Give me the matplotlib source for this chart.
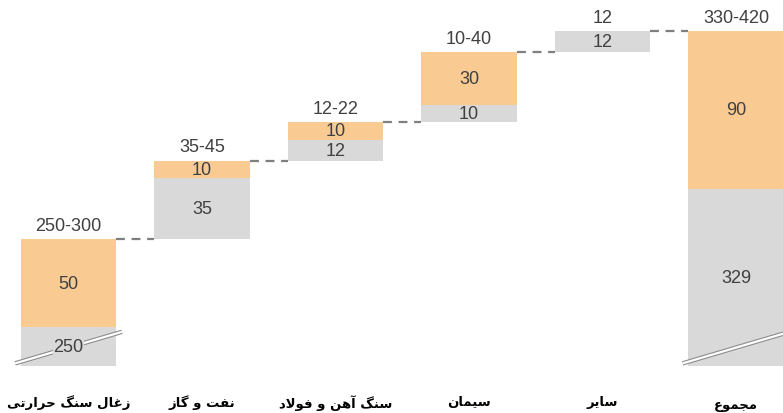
import matplotlib
matplotlib.use("Agg")
import matplotlib.pyplot as plt

# ---- data ----
categories = ["زغال سنگ حرارتی", "نفت و گاز", "سنگ آهن و فولاد", "سیمان", "سایر", "مجموع"]
low_values = [250, 35, 12, 10, 12, 329]      # grey (lower bound) segment
extra_values = [50, 10, 10, 30, 0, 90]        # orange (upper bound - lower bound)
range_labels = ["250-300", "35-45", "12-22", "10-40", "12", "330-420"]
is_total = [False, False, False, False, False, True]

GREY = "#D9D9D9"
ORANGE = "#F9CB93"
TEXT = "#404040"
DASH = "#7F7F7F"

# ---- minimal Persian shaping (matplotlib has no complex-script layout) ----
FORMS = {  # isolated, final, initial, medial
    "ا": ("\uFE8D", "\uFE8E", None, None),
    "آ": ("\uFE81", "\uFE82", None, None),
    "د": ("\uFEA9", "\uFEAA", None, None),
    "ر": ("\uFEAD", "\uFEAE", None, None),
    "ز": ("\uFEAF", "\uFEB0", None, None),
    "و": ("\uFEED", "\uFEEE", None, None),
    "ت": ("\uFE95", "\uFE96", "\uFE97", "\uFE98"),
    "ج": ("\uFE9D", "\uFE9E", "\uFE9F", "\uFEA0"),
    "ح": ("\uFEA1", "\uFEA2", "\uFEA3", "\uFEA4"),
    "س": ("\uFEB1", "\uFEB2", "\uFEB3", "\uFEB4"),
    "ع": ("\uFEC9", "\uFECA", "\uFECB", "\uFECC"),
    "غ": ("\uFECD", "\uFECE", "\uFECF", "\uFED0"),
    "ف": ("\uFED1", "\uFED2", "\uFED3", "\uFED4"),
    "ل": ("\uFEDD", "\uFEDE", "\uFEDF", "\uFEE0"),
    "م": ("\uFEE1", "\uFEE2", "\uFEE3", "\uFEE4"),
    "ن": ("\uFEE5", "\uFEE6", "\uFEE7", "\uFEE8"),
    "ه": ("\uFEE9", "\uFEEA", "\uFEEB", "\uFEEC"),
    "گ": ("\uFB92", "\uFB93", "\uFB94", "\uFB95"),
    "ی": ("\uFBFC", "\uFBFD", "\uFBFE", "\uFBFF"),
}
LAM_ALEF = {"ا": ("\uFEFB", "\uFEFC"), "آ": ("\uFEF5", "\uFEF6")}


def joins_forward(ch):
    return ch in FORMS and FORMS[ch][2] is not None


def shape(text):
    out = []
    i = 0
    n = len(text)
    while i < n:
        ch = text[i]
        if ch not in FORMS:
            out.append(ch)
            i += 1
            continue
        prev = text[i - 1] if i > 0 else ""
        linked_prev = joins_forward(prev)
        if ch == "ل" and i + 1 < n and text[i + 1] in LAM_ALEF:
            iso, fin = LAM_ALEF[text[i + 1]]
            out.append(fin if linked_prev else iso)
            i += 2
            continue
        nxt = text[i + 1] if i + 1 < n else ""
        linked_next = joins_forward(ch) and nxt in FORMS
        iso, fin, ini, med = FORMS[ch]
        if linked_prev and linked_next:
            out.append(med)
        elif linked_prev:
            out.append(fin)
        elif linked_next:
            out.append(ini)
        else:
            out.append(iso)
        i += 1
    return "".join(reversed(out))


# ---- figure ----
W, H = 783, 414
fig = plt.figure(figsize=(W / 100, H / 100), dpi=100)
ax = fig.add_axes([0, 47 / H, 1, 1 - 47 / H])
y_min, y_max = 227.7, 437.3
ax.set_xlim(-0.513, 5.352)
ax.set_ylim(y_min, y_max)
ax.axis("off")

num_font = dict(family="Liberation Sans", fontsize=13, color=TEXT)
bar_w = 0.712

running = 0
tops = []
for i, (lo, ex) in enumerate(zip(low_values, extra_values)):
    base = 0 if is_total[i] else running
    ax.bar(i, lo, bottom=base, width=bar_w, color=GREY, linewidth=0, zorder=2)
    if ex:
        ax.bar(i, ex, bottom=base + lo, width=bar_w, color=ORANGE, linewidth=0, zorder=2)
    top = base + lo + ex
    tops.append(top)

    # segment values
    lo_vis = max(base, y_min)
    y_lo = (lo_vis + base + lo) / 2
    broken = base < y_min
    ax.text(i, y_lo, str(lo), ha="center", va="center", zorder=6,
            bbox=dict(facecolor=GREY, edgecolor="none", pad=0.4) if broken else None,
            **num_font)
    if ex:
        ax.text(i, base + lo + ex / 2, str(ex), ha="center", va="center", zorder=6, **num_font)

    # range label above the bar
    ax.text(i, top + 3.0, range_labels[i], ha="center", va="bottom", zorder=6, **num_font)

    # axis break marks on bars that start below the visible range
    if broken:
        xs = [i - 0.40, i + 0.40]
        ys = [y_min + 1.5, y_min + 19.5]
        ax.plot(xs, ys, color="#8C8C8C", lw=3.2, solid_capstyle="butt", zorder=4)
        ax.plot(xs, ys, color="white", lw=1.6, solid_capstyle="butt", zorder=5)

    if not is_total[i]:
        running = top

# dashed connectors between consecutive bars
for i in range(len(categories) - 1):
    ax.plot([i + bar_w / 2, i + 1 - bar_w / 2], [tops[i], tops[i]],
            color=DASH, lw=1.6, ls=(0, (4, 3)), zorder=1)

# category labels
for i, cat in enumerate(categories):
    fig.text((i + 0.513) / 5.865, 8 / H if is_total[i] else 11 / H, shape(cat),
             ha="center", va="center", fontsize=9.5, fontweight="bold",
             family=["DejaVu Sans", "Noto Sans"], color="black")

fig.savefig("out.png", dpi=100)
